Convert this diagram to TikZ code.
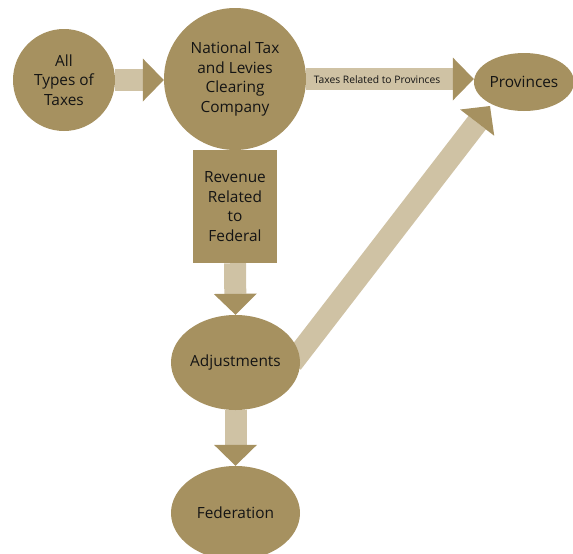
\documentclass[tikz,border=0pt]{standalone}
\usepackage{fontspec}
\setmainfont{Open Sans}
\usetikzlibrary{arrows.meta,shapes.geometric,backgrounds}
\definecolor{dark}{HTML}{A69160}
\definecolor{light}{HTML}{CFC2A4}
\definecolor{ink}{HTML}{141414}
\tikzset{
  blob/.style={fill=dark, draw=none, inner sep=0pt, text=ink, align=center,
    font=\fontsize{15.4}{19.6}\selectfont},
  round/.style={blob, circle, minimum size=#1},
  oval/.style={blob, ellipse},
  flow/.style={draw=light, line width=22pt,
    -{Triangle[width=43pt,length=21pt,line width=0pt,color=dark,fill=dark]}},
}
\begin{document}
\begin{tikzpicture}[x=1pt,y=-1pt]
\useasboundingbox (0,0) rectangle (573,554);
\node[round=102pt] (all) at (64,80) {All\\Types of\\Taxes};
\node[round=142pt] (ntl) at (235,79) {National Tax\\and Levies\\Clearing\\Company};
\node[oval, minimum width=100pt, minimum height=58pt] (prov) at (524,82) {Provinces};
\node[blob, rectangle, minimum width=84pt, minimum height=113pt] (rev) at (235,206.5) {Revenue\\Related\\to\\Federal};
\node[oval, minimum width=129pt, minimum height=95pt] (adj) at (235.5,362.5) {Adjustments};
\node[oval, minimum width=129pt, minimum height=94pt] (fed) at (235.5,513) {Federation};
\coordinate (dstart) at (292,363);
\coordinate (dend) at (490,106);
\begin{scope}[on background layer]
\draw[flow] (all.east) -- (all.east -| ntl.west);
\draw[flow] (ntl.east) -- (ntl.east -| prov.west);
\draw[flow] (rev.south) -- (adj.north);
\draw[flow] (adj.south) -- (fed.north);
\draw[flow] (dstart) -- (dend);
\end{scope}
\node[text=ink, font=\fontsize{10.3}{12}\selectfont, inner sep=0pt] (lbl) at (377,80) {Taxes Related to Provinces};
\end{tikzpicture}
\end{document}
